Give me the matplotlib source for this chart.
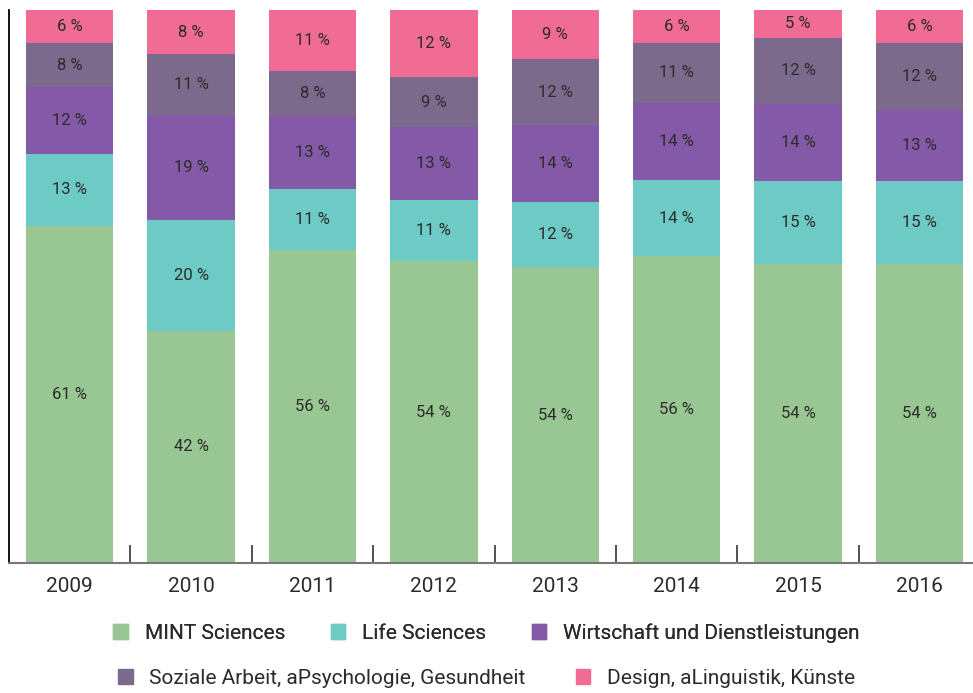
import matplotlib
matplotlib.use("Agg")
import matplotlib.pyplot as plt
import numpy as np
from matplotlib.patches import Patch

years = ["2009", "2010", "2011", "2012", "2013", "2014", "2015", "2016"]
categories = ["MINT Sciences", "Life Sciences", "Wirtschaft und Dienstleistungen",
              "Soziale Arbeit, aPsychologie, Gesundheit", "Design, aLinguistik, Künste"]
mint = [61, 42, 56, 54, 54, 56, 54, 54]
life = [13, 20, 11, 11, 12, 14, 15, 15]
wirtschaft = [12, 19, 13, 13, 14, 14, 14, 13]
soziale = [8, 11, 8, 9, 12, 11, 12, 12]
design = [6, 8, 11, 12, 9, 6, 5, 6]
colors = ["#98C793", "#6DCAC5", "#8459A7", "#7C6A8D", "#F06C94"]

plt.rcParams['font.family'] = ['Roboto', 'DejaVu Sans']

series = np.array([mint, life, wirtschaft, soziale, design], dtype=float)
totals = series.sum(axis=0)
shares = series / totals * 100

fig = plt.figure(figsize=(9.73, 6.93), dpi=100)
ax = fig.add_axes([9 / 973, 130 / 693, 964 / 973, 553 / 693])
x = np.arange(len(years))
bottom = np.zeros(len(years))
for i, cat in enumerate(categories):
    ax.bar(x, shares[i], bottom=bottom, width=0.72, color=colors[i], label=cat, zorder=2)
    for j in range(len(years)):
        ax.text(x[j], bottom[j] + shares[i][j] / 2, f"{int(series[i][j])} %",
                ha="center", va="center", fontsize=12, color="#2b2b2b")
    bottom += shares[i]

ax.set_xlim(-0.5, 7.44)
ax.set_ylim(0, 100)
ax.set_yticks([])
ax.set_xticks(x)
ax.set_xticklabels(years, fontsize=15, color="#2b2b2b")
ax.tick_params(axis="x", which="major", length=0, pad=10)
ax.set_xticks(np.arange(0.5, 7, 1), minor=True)
ax.tick_params(axis="x", which="minor", direction="in", length=13, width=1.2, color="#333333")
for s in ["top", "right"]:
    ax.spines[s].set_visible(False)
ax.spines["left"].set_color("black")
ax.spines["left"].set_linewidth(1.3)
ax.spines["bottom"].set_color("#777777")
ax.spines["bottom"].set_linewidth(1.5)

h1 = [Patch(color=colors[i]) for i in range(3)]
h2 = [Patch(color=colors[i]) for i in range(3, 5)]
leg1 = fig.legend(h1, categories[:3], ncol=3, loc="center", bbox_to_anchor=(0.5, 1 - 633 / 693),
                  frameon=False, fontsize=15, handlelength=0.7, handleheight=0.7,
                  columnspacing=2.2, handletextpad=0.8, labelcolor="#2b2b2b")
leg2 = fig.legend(h2, categories[3:], ncol=2, loc="center", bbox_to_anchor=(0.5, 1 - 678 / 693),
                  frameon=False, fontsize=15, handlelength=0.7, handleheight=0.7,
                  columnspacing=2.4, handletextpad=0.8, labelcolor="#2b2b2b")
fig.add_artist(leg1)

fig.savefig("out.png", dpi=100)
